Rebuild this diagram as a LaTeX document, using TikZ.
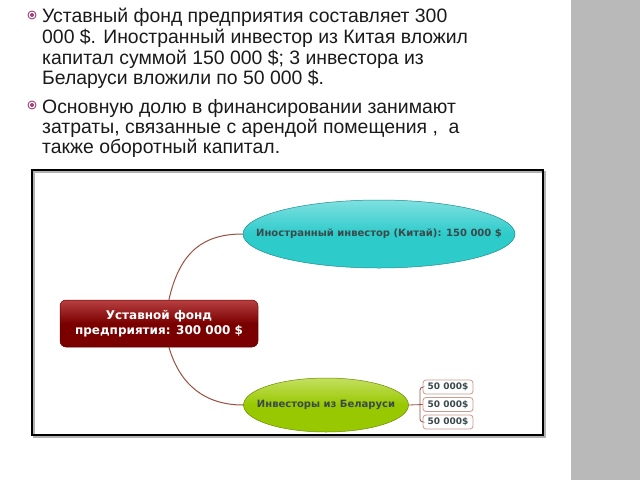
\documentclass[tikz,border=0pt]{standalone}
\usepackage{fontspec}
\setmainfont{Liberation Sans}
\newfontfamily\mapfont{DejaVu Sans}
\usetikzlibrary{shapes.geometric,calc}
\definecolor{bodytext}{HTML}{1A1A1A}
\definecolor{bulletc}{HTML}{A0407A}
\definecolor{stripc}{HTML}{B9B9B9}
\definecolor{rootdark}{HTML}{7A0000}
\definecolor{rootlight}{HTML}{B84040}
\definecolor{cyanfill}{HTML}{2ECBCB}
\definecolor{cyanlight}{HTML}{7FE0E0}
\definecolor{greenfill}{HTML}{98C800}
\definecolor{greenlight}{HTML}{C4E060}
\definecolor{linkc}{HTML}{9A5040}
\definecolor{leafborder}{HTML}{C89A90}
\definecolor{nodetext}{HTML}{3A4A4A}
\tikzset{
  x=1pt, y=-1pt,
  bodyline/.style={anchor=base west, inner sep=0pt, font=\fontsize{19.4}{21}\selectfont, text=bodytext},
  bulletmark/.style={circle, draw=bulletc, line width=0.9pt, minimum size=8pt, inner sep=0pt},
  link/.style={draw=linkc, line width=1pt},
  blob/.style={ellipse, inner sep=0pt, line width=0.5pt},
  blobtext/.style={inner sep=0pt, text=nodetext, font=\mapfont\bfseries\fontsize{10}{12}\selectfont},
  leaf/.style={draw=leafborder, line width=0.8pt, rounded corners=3pt, fill=white, minimum width=50pt, minimum height=14pt, inner sep=1pt, font=\mapfont\bfseries\fontsize{9}{10}\selectfont, text=nodetext},
}
\begin{document}
\begin{tikzpicture}
\useasboundingbox (0,0) rectangle (640,480);
\fill[white] (0,0) rectangle (640,480);
% right strip
\fill[stripc] (571,0) rectangle (640,480);
% bullets
\node[bulletmark] (b1) at (32,15) {};
\fill[bulletc] (b1.center) circle (2pt);
\node[bulletmark] (b2) at (32,105) {};
\fill[bulletc] (b2.center) circle (2pt);
% text
\node[bodyline] (t1) at (42,22) {Уставный фонд предприятия составляет 300};
\node[bodyline] (t2) at (42,43) {000 \$. Иностранный инвестор из Китая вложил};
\node[bodyline] (t3) at (42,64) {капитал суммой 150 000 \$; 3 инвестора из};
\node[bodyline] (t4) at (42,84) {Беларуси вложили по 50 000 \$.};
\node[bodyline] (t5) at (42,113) {Основную долю в финансировании занимают};
\node[bodyline] (t6) at (42,133) {затраты, связанные с арендой помещения ,\ \ а};
\node[bodyline] (t7) at (42,153) {также оборотный капитал.};
% frame
\draw[gray!60, line width=2pt] (34,172) rectangle (545,437);
\draw[black, line width=2.5pt] (32,170) rectangle (543,435);
% root
\node[rounded corners=6pt, minimum width=198pt, minimum height=47pt, top color=rootlight, bottom color=rootdark, middle color=rootdark, draw=rootdark!80!black, line width=0.5pt, text=white, font=\mapfont\bfseries\fontsize{12}{15}\selectfont, align=center] (root) at (159,323.5) {Уставной фонд\\предприятия: 300 000 \$};
% cyan ellipse
\node[blob, minimum width=272pt, minimum height=68pt, top color=cyanlight, bottom color=cyanfill, middle color=cyanfill, draw=cyanfill!70!black] (china) at (379,234) {};
\node[blobtext] (chinatext) at (china.center) {Иностранный инвестор (Китай): 150 000 \$};
% green ellipse
\node[blob, minimum width=165pt, minimum height=54pt, top color=greenlight, bottom color=greenfill, middle color=greenfill, draw=greenfill!70!black] (belarus) at (326,405) {};
\node[blobtext] (belarustext) at (belarus.center) {Инвесторы из Беларуси};
% links
\coordinate (rt) at ($(root.north west)!0.55!(root.north east)$);
\coordinate (rb) at ($(root.south west)!0.55!(root.south east)$);
\draw[link] (rt) .. controls (180,250) and (205,234) .. (china.west);
\draw[link] (rb) .. controls (180,385) and (205,405) .. (belarus.west);
% leaves
\node[leaf] (l1) at (448,387) {50 000\$};
\node[leaf] (l2) at (448,404.5) {50 000\$};
\node[leaf] (l3) at (448,422) {50 000\$};
\draw[link, line width=0.8pt] (belarus.east) -- (l2.west);
\draw[link, line width=0.8pt, rounded corners=3pt] (l1.west) -- (420,387) -- (420,422) -- (l3.west);
\end{tikzpicture}
\end{document}
